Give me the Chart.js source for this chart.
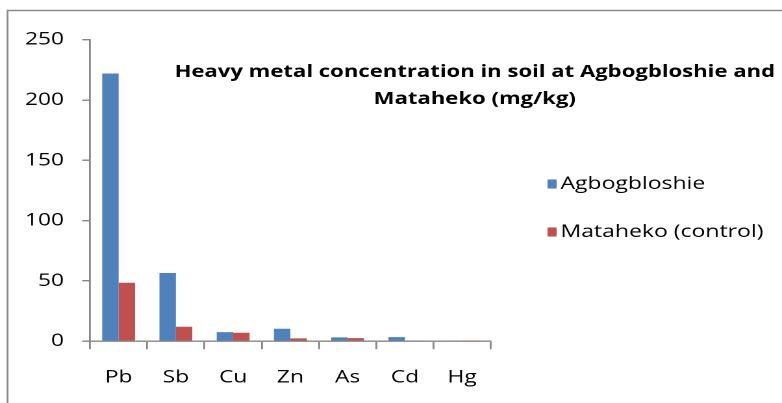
<!DOCTYPE html>
<html>
<head>
<meta charset="utf-8">
<script src="https://cdn.jsdelivr.net/npm/chart.js@4/dist/chart.umd.min.js"></script>
<style>
  html, body { margin: 0; padding: 0; background: #fff; overflow: hidden; }
  #wrap { width: 602px; height: 403px; transform: scaleX(1.299); transform-origin: 0 0; }
  canvas { display: block; }
</style>
</head>
<body>
<div id="wrap"><canvas id="chart" width="602" height="403"></canvas></div>
<script>
// Metals measured and their concentrations (mg/kg)
const metals = ['Pb', 'Sb', 'Cu', 'Zn', 'As', 'Cd', 'Hg'];
const agbogbloshie = [222, 56.5, 7.5, 10.3, 3.2, 3.4, 0.4];
const mataheko = [48.5, 12, 7, 2.3, 2.6, 0.4, 0.1];
const seriesNames = ['Agbogbloshie', 'Mataheko (control)'];
const titleLines = ['Heavy metal concentration in soil at Agbogbloshie and', 'Mataheko (mg/kg)'];
const yTicks = [0, 50, 100, 150, 200, 250];

const FONT = '"Open Sans", "Liberation Sans", sans-serif';
const AXIS = '#868686';

// Outer frame (left and top edges visible)
const framePlugin = {
  id: 'frame',
  beforeDraw(chart) {
    const ctx = chart.ctx;
    ctx.save();
    ctx.strokeStyle = '#8a8a8a';
    ctx.lineWidth = 1.4;
    ctx.beginPath();
    ctx.moveTo(5.8, chart.height + 2);
    ctx.lineTo(5.8, 10.5);
    ctx.lineTo(chart.width + 2, 10.5);
    ctx.stroke();
    ctx.restore();
  }
};

// Two-line bold title over the plot
const titlePlugin = {
  id: 'twoLineTitle',
  afterDraw(chart) {
    const ctx = chart.ctx;
    ctx.save();
    ctx.fillStyle = '#000';
    ctx.font = 'bold 17px ' + FONT;
    ctx.textAlign = 'center';
    ctx.textBaseline = 'middle';
    ctx.fillText(titleLines[0], 365.5, 72);
    ctx.fillText(titleLines[1], 365.5, 99);
    ctx.restore();
  }
};

// Legend on the right, built from the datasets
const legendPlugin = {
  id: 'sideLegend',
  afterDraw(chart) {
    const ctx = chart.ctx;
    const ys = [184, 232];
    ctx.save();
    ctx.font = '17.7px ' + FONT;
    ctx.textAlign = 'left';
    ctx.textBaseline = 'middle';
    chart.data.datasets.forEach((ds, i) => {
      ctx.fillStyle = ds.backgroundColor;
      ctx.fillRect(421.5, ys[i] - 4.5, 7, 9);
      ctx.fillStyle = '#000';
      ctx.fillText(ds.label, 431.5, ys[i]);
    });
    ctx.restore();
  }
};

new Chart(document.getElementById('chart'), {
  type: 'bar',
  data: {
    labels: metals,
    datasets: [
      { label: seriesNames[0], data: agbogbloshie, backgroundColor: '#4F81BD' },
      { label: seriesNames[1], data: mataheko, backgroundColor: '#C0504D' }
    ]
  },
  options: {
    responsive: false,
    animation: false,
    devicePixelRatio: 2,
    categoryPercentage: 0.574,
    barPercentage: 1,
    layout: { padding: { left: 0, right: 224.2, top: 39.7, bottom: 0 } },
    plugins: {
      legend: { display: false },
      title: { display: false },
      tooltip: { enabled: false }
    },
    scales: {
      x: {
        grid: { drawOnChartArea: false, drawTicks: true, tickLength: 8, color: AXIS, lineWidth: 1.4 },
        border: { display: true, color: AXIS, width: 1.4 },
        ticks: { color: '#000', font: { family: FONT, size: 17.5 }, padding: 18 },
        afterFit(scale) { scale.height = 61.8; }
      },
      y: {
        min: 0,
        max: 250,
        afterBuildTicks(scale) { scale.ticks = yTicks.map(v => ({ value: v })); },
        grid: { drawOnChartArea: false, drawTicks: true, tickLength: 6, color: AXIS, lineWidth: 1.4 },
        border: { display: true, color: AXIS, width: 1.4 },
        ticks: { color: '#000', font: { family: FONT, size: 17.5 }, padding: 14 },
        afterFit(scale) { scale.width = 69.3; }
      }
    }
  },
  plugins: [framePlugin, titlePlugin, legendPlugin]
});
</script>
</body>
</html>
